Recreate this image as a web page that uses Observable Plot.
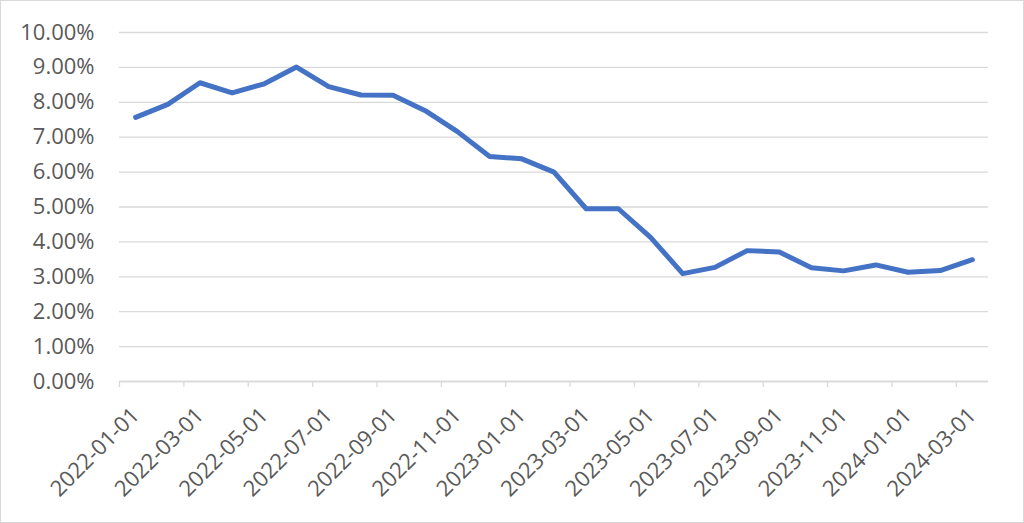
<!DOCTYPE html>
<html>
<head>
<meta charset="utf-8">
<script src="https://cdn.jsdelivr.net/npm/d3@7"></script>
<script src="https://cdn.jsdelivr.net/npm/@observablehq/plot@0.6"></script>
<style>
  html, body { margin: 0; padding: 0; background: #fff; }
  #chart svg { display: block; outline: 1px solid #d9d9d9; outline-offset: -1px; }
</style>
</head>
<body>
<div id="chart"></div>
<script>
const dates = [
  "2022-01-01","2022-02-01","2022-03-01","2022-04-01","2022-05-01","2022-06-01",
  "2022-07-01","2022-08-01","2022-09-01","2022-10-01","2022-11-01","2022-12-01",
  "2023-01-01","2023-02-01","2023-03-01","2023-04-01","2023-05-01","2023-06-01",
  "2023-07-01","2023-08-01","2023-09-01","2023-10-01","2023-11-01","2023-12-01",
  "2024-01-01","2024-02-01","2024-03-01"
];
const values = [
  7.57, 7.94, 8.56, 8.27, 8.53, 9.01,
  8.45, 8.21, 8.20, 7.76, 7.16, 6.45,
  6.38, 6.00, 4.95, 4.95, 4.13, 3.09,
  3.27, 3.75, 3.71, 3.26, 3.17, 3.34,
  3.13, 3.18, 3.49
];
const yTicks = [0, 1, 2, 3, 4, 5, 6, 7, 8, 9, 10];

const data = dates.map((d, i) => ({i, date: d, value: values[i]}));
const n = dates.length;
const labelIdx = d3.range(0, n, 2);
const boundaryIdx = d3.range(-0.5, n - 0.5, 2);

const font = "'Open Sans', 'Noto Sans', sans-serif";
const fmt = v => `${v.toFixed(2)}%`;

const chart = Plot.plot({
  width: 1024,
  height: 523,
  marginLeft: 119,
  marginRight: 36,
  marginTop: 32,
  marginBottom: 142,
  style: {fontFamily: font, fontSize: "22px", color: "#595959", background: "#fff"},
  x: {type: "linear", domain: [-0.5, n - 0.5]},
  y: {domain: [0, 10]},
  marks: [
    Plot.gridY(yTicks, {stroke: "#d9d9d9", strokeOpacity: 1, strokeWidth: 1.3}),
    Plot.ruleY([0], {stroke: "#d9d9d9", strokeWidth: 1.3}),
    Plot.axisY(yTicks, {tickSize: 0, tickPadding: 25, tickFormat: fmt, fill: "#595959", fontSize: 22, label: null}),
    Plot.axisX(boundaryIdx, {tickSize: 6, tickFormat: () => "", stroke: "#d9d9d9", strokeWidth: 1.3, label: null}),
    Plot.axisX(labelIdx, {tickSize: 0, tickPadding: 30, dx: 0, tickRotate: -45, tickFormat: i => dates[i], fill: "#595959", fontSize: 22, label: null}),
    Plot.line(data, {x: "i", y: "value", stroke: "#4472c4", strokeWidth: 5, strokeLinejoin: "round", strokeLinecap: "round"})
  ]
});
document.getElementById("chart").appendChild(chart);
</script>
</body>
</html>
